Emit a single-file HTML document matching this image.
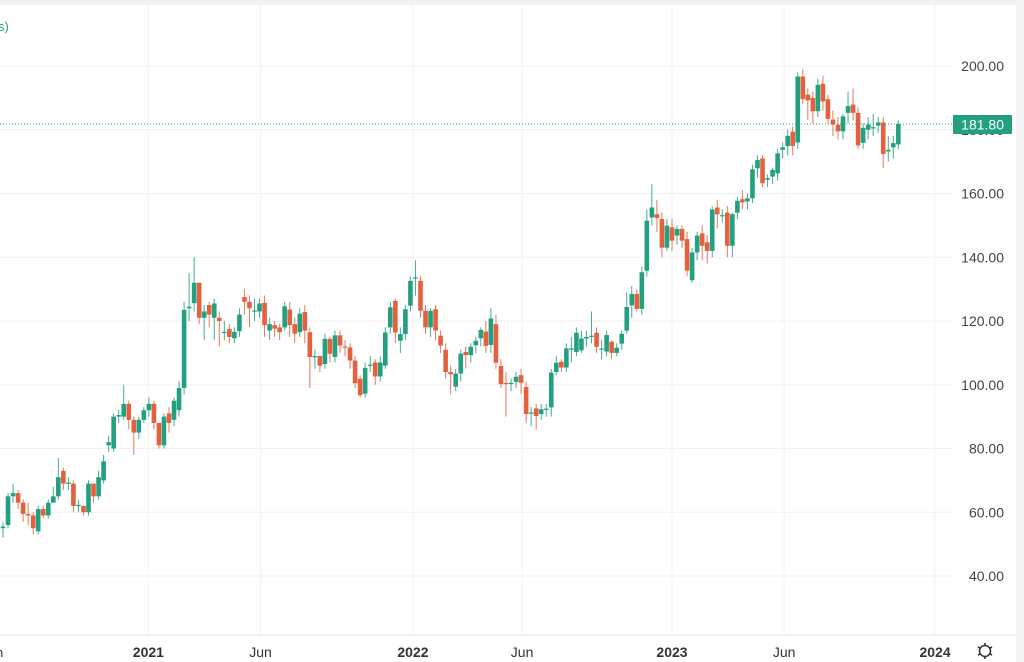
<!DOCTYPE html>
<html><head><meta charset="utf-8"><style>
html,body{margin:0;padding:0;background:#fff;width:1024px;height:662px;overflow:hidden;font-family:"Liberation Sans",sans-serif}
</style></head><body>
<svg id="chart" width="1024" height="662" xmlns="http://www.w3.org/2000/svg">
<rect x="0" y="0" width="1024" height="5" fill="#f2f2f4"/>
<rect x="1016" y="0" width="8" height="662" fill="#f4f4f6"/>
<g id="grid"></g>
<g id="candles"></g>
<line x1="0" y1="635" x2="1016" y2="635" stroke="#e6e6ea"/>
<g id="yaxis"></g>
<g id="xaxis"></g>
<text x="-2" y="31" font-size="13" fill="#26a17f">s)</text>
<text x="-4" y="657" font-size="13" fill="#333">n</text>
<g transform="translate(985,651)">
<circle r="5.5" fill="none" stroke="#333" stroke-width="1.5"/>
<g stroke="#333" stroke-width="1.6">
<line x1="0" y1="-8" x2="0" y2="-5.5"/><line x1="0" y1="8" x2="0" y2="5.5"/>
<line x1="-7" y1="-4" x2="-4.8" y2="-2.8"/><line x1="7" y1="4" x2="4.8" y2="2.8"/>
<line x1="-7" y1="4" x2="-4.8" y2="2.8"/><line x1="7" y1="-4" x2="4.8" y2="-2.8"/>
</g></g>
</svg>
<script>
const opens=[55,56,65,66,63,59.5,59,54,61,59,
63,65,73,69,69,62,62,60,69,65,
70,81,80,90,90,94,89,85,89,92,
94,88,81,91,89,92,99,124,125.6,132,
121,125,121,121,116.5,117.5,114.6,116.8,127.5,126,
123,123,125.7,117,118.7,118,118,123.6,119,116.5,
122.8,116.5,108.7,109,106.5,114.4,108.7,115.5,112,111.7,
107.6,101.9,97.2,106,107,102.6,106,118,126.3,113.8,
115.9,124.8,133.5,132.6,123.2,118,123.7,115.4,111,104,
99.4,103.5,110.3,109.3,112.4,114.6,116.7,112.5,119,105.9,
100.6,100.4,100.9,103,99.3,91,92.6,90.8,92.3,92.9,
104,107.2,105.4,111,110.3,110.8,114.5,115.2,116.3,111.3,
110.4,113.5,110,112.9,117,124.9,128.5,123.8,135.8,152.5,
153.5,152,143,149.4,146.8,148.9,145.7,132.8,141.5,147.5,
144.7,142,155.6,153,154,143.6,154,158.2,157.5,158.5,
167.9,171,164.3,165.3,166.3,173.7,174.9,179.4,176,196.7,
191,190,185.8,194.4,189.6,183.2,181.6,179.5,185.3,187.9,
185.3,175.9,180,180.7,181.3,182.3,173.2,174.5,175.4];
const closes=[55.5,65,66,63,59.5,59,55,61,59,63,
65,71,69,69.3,62,62.3,60,69,65,71,
76,82,90,90.5,94,89,85,89,92,94,
88,81,90,88,95,99,123.5,124.5,132,121,
123,122,125.5,120,116.6,115,116.6,122,126,124,
123.3,125.5,118.7,119,117.6,116.5,124.6,118.7,116,122.3,
117,108.7,109,106,114.4,109.7,115.5,112.3,111.7,107.6,
100.5,96.7,105.3,106.3,102.6,107,116.4,124.3,116.4,115.9,
123.7,132.6,133.7,123.2,118,123.2,117,112.3,104,103.3,
103.5,109.8,109.3,111.9,113.8,117.2,112.2,120.8,106.9,100.2,
100.2,100.6,102.5,100.6,90.8,91.3,90.2,92.3,92.5,103.8,
106.9,105.4,111.4,111.4,116.3,114.5,115,115.4,111.9,111.4,
115.6,110,111.6,116,124.4,128.5,123.8,135.3,151.5,155.6,
152.3,143,149.9,145.2,148.9,145.2,135.8,141.5,146.8,143.6,
142,155,153.5,153.2,143.6,153.5,157.7,157.2,158.5,167.6,
170.5,163.2,164.8,167.4,172.6,174.5,178.1,174.9,196.7,189.6,
189.2,185.8,194.1,188.9,183.4,181.6,179.5,184.2,187.4,185.3,
175.1,180.6,181.6,180.8,182.3,172.4,173.7,175.8,181.8];
const highs=[57,66,69,67,64,63,60,62,62,64,
68,77,74,71,70,64,62,70,67,73,
78,84,91,92,100,95,90,90,93,96,
95,88,91,93,96,101,126,135,140,132,
125,126,127,123,120,119,118,124,130,128,
127,127,128,121,120,119,126,126,121,124,
125,118,111,109,116,115,117,117,114,113,
109,103,107,109,108,109,118,126,127,118,
125,134,139,134,125,124,125,117,113,106,
105,111,112,113,115,118,120,124,122,108,
104,102,104,105,101,93,94,94,94,105,
109,108,113,115,118,117,117,123,118,114,
117,114,113,117,129,131,130,137,155,163,
158,154,152,152,150,150,148,143,148,150,
147,156,158,155,156,154,159,161,160,169,
172,172,166,168,174,176,180,181,198,199,
193,192,196,197,191,186,184,185,192,193,
187,182,184,185,184,184,178,178,183];
const lows=[52,55,63,61,57,56,53,53,58,58,
63,64,67,67,60,60,59,59,63,64,
69,79,79,88,89,86,78,83,88,90,
86,80,80,85,87,90,97,120,123,119,
114,118,114,112,114,113,113,115,122,118,
120,121,115,114,115,114,117,115,113,115,
113,99,105,104,105,107,107,110,109,105,
99,96,96,104,100,101,105,116,113,110,
114,123,128,121,116,115,114,110,102,97,
98,101,105,107,110,112,110,110,105,99,
90,98,99,97,88,87,86,89,90,90,
103,104,104,107,109,110,112,113,110,108,
109,108,109,111,116,121,123,122,134,150,
148,140,142,142,144,143,134,132,139,139,
138,140,149,151,140,140,152,155,155,157,
165,162,162,163,164,171,172,172,174,188,
183,182,184,186,182,178,177,177,182,183,
174,174,177,178,179,168,170,171,174];
const yTicks=[200,180,160,140,120,100,80,60,40];
const xTickLabels=["2021","Jun","2022","Jun","2023","Jun","2024"];
const xTickIndex=[28.9,51.2,81.5,103.2,133,155.3,185.3];
const lastPrice=181.80;

const NS="http://www.w3.org/2000/svg";
const yScale=p=>66+(200-p)*3.1875;
const xScale=i=>3+i*5.03;
function mk(tag,attrs,parent){const e=document.createElementNS(NS,tag);for(const k in attrs)e.setAttribute(k,attrs[k]);parent.appendChild(e);return e;}
const grid=document.getElementById('grid'),cg=document.getElementById('candles'),ya=document.getElementById('yaxis'),xa=document.getElementById('xaxis');
const svg=document.getElementById('chart');
yTicks.forEach(t=>{
  const gl=mk('line',{x1:0,x2:952,y1:yScale(t),y2:yScale(t),stroke:'#f0f0f3'},grid);
  
  
  const tx=mk('text',{x:1004,y:yScale(t)+5,'font-size':14,fill:'#444','text-anchor':'end'},ya);
  tx.textContent=t.toFixed(2);
  
  
});
xTickLabels.forEach((l,k)=>{
  const x=xScale(xTickIndex[k]);
  const vl=mk('line',{x1:x,x2:x,y1:5,y2:635,stroke:'#f2f2f5'},grid);
  
  
  const tx=mk('text',{x:x,y:657,'font-size':14,fill:'#333','text-anchor':'middle','font-weight':l.length===4?'bold':'normal'},xa);
  tx.textContent=l;
  
  
});
const G='#22a07f',R='#e5603e';
for(let i=0;i<closes.length;i++){
  const x=xScale(i),o=opens[i],c=closes[i],col=c>=o?G:R;
  const g=mk('g',{},cg);
  
  
  mk('line',{x1:x,x2:x,y1:yScale(highs[i]),y2:yScale(lows[i]),stroke:col,'stroke-width':1,opacity:0.85},g);
  const top=yScale(Math.max(o,c)),bot=yScale(Math.min(o,c));
  mk('rect',{x:x-2.3,y:top,width:4.6,height:Math.max(1.2,bot-top),fill:col},g);
}
const ly=yScale(lastPrice);
const dl=mk('line',{x1:0,x2:952,y1:ly,y2:ly,stroke:'#22a07f','stroke-width':1,'stroke-dasharray':'1,2'},svg);


const lb=mk('rect',{x:953,y:ly-9,width:59,height:19,fill:'#22a07f',rx:1},svg);


const lt=mk('text',{x:1004,y:ly+5.5,'font-size':14,fill:'#fff','text-anchor':'end'},svg);
lt.textContent=lastPrice.toFixed(2);


</script>
</body></html>
